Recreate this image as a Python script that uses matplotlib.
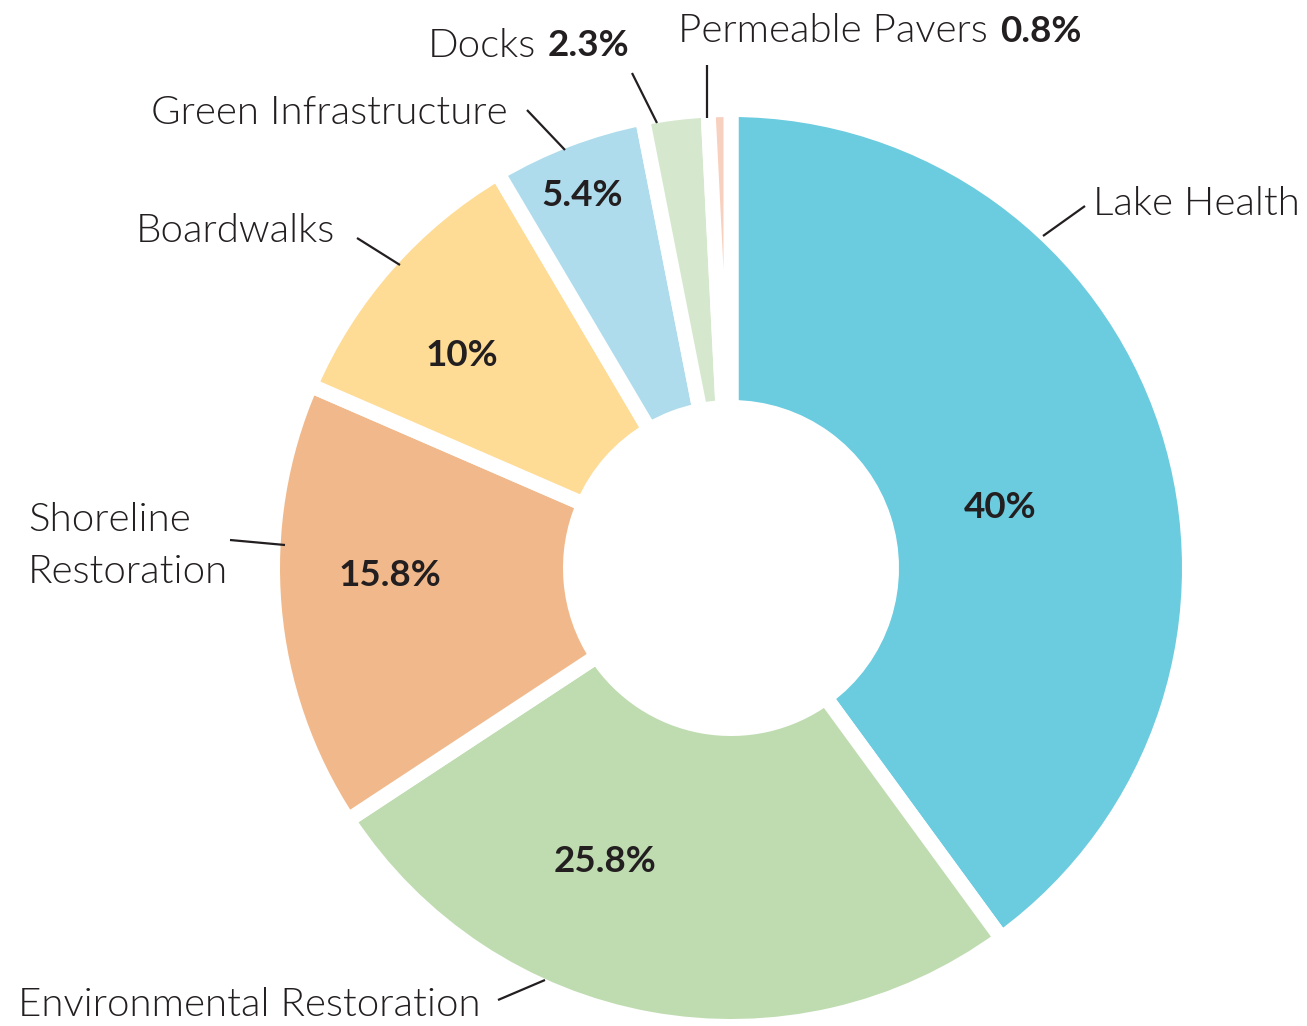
import numpy as np
import matplotlib.pyplot as plt

# Share of funding by project category
categories = ["Lake Health", "Environmental Restoration", "Shoreline Restoration",
              "Boardwalks", "Green Infrastructure", "Docks", "Permeable Pavers"]
shares = [40, 25.8, 15.8, 10, 5.4, 2.3, 0.8]
colors = ["#6bcbdf", "#bfdcb1", "#f1b98b", "#fedc96", "#aedcec", "#d5e8cd", "#f8d0bf"]

W, H = 1307, 1026
cx, cy = 731, 568          # donut centre (pixels, y down)
r_out, r_in = 451, 168     # visible radii
gap = 15                   # white gap between wedges, pixels
dpi = 100

plt.rcParams['font.family'] = ['Lato', 'DejaVu Sans']
ink = "#231f20"

fig = plt.figure(figsize=(W / dpi, H / dpi), dpi=dpi)
ax = fig.add_axes([0, 0, 1, 1])

# stroke eats half the gap on every side, so grow the wedge to compensate
R = r_out + gap / 2
ax.pie(shares, colors=colors, center=(cx, cy), radius=R,
       startangle=-90, counterclock=True, normalize=True,
       wedgeprops=dict(width=R - (r_in - gap / 2), edgecolor="white",
                       linewidth=gap * 72 / dpi))

ax.set_xlim(0, W)
ax.set_ylim(H, 0)
ax.set_aspect("equal")
ax.axis("off")

fs_lab = 29
fs_pct = 26.5
lab = dict(fontsize=fs_lab, color=ink, fontweight=300)
pct = dict(fontsize=fs_pct, color=ink, fontweight="bold")

# percentages inside the wedges
inner = {"Lake Health": (1000, 508), "Environmental Restoration": (605, 862),
         "Shoreline Restoration": (390, 575), "Boardwalks": (462, 355),
         "Green Infrastructure": (582, 195)}
for name, (x, y) in inner.items():
    v = shares[categories.index(name)]
    ax.text(x, y, f"{v:g}%", ha="center", va="center", **pct)

# leader lines
leaders = [((1043, 236), (1085, 206)),
           ((545, 980), (498, 1000)),
           ((285, 545), (230, 540)),
           ((400, 265), (357, 238)),
           ((565, 150), (527, 110)),
           ((657, 123), (632, 73)),
           ((707, 118), (707, 65))]
for (x0, y0), (x1, y1) in leaders:
    ax.plot([x0, x1], [y0, y1], color=ink, lw=1.6, solid_capstyle="butt")

# outer labels
ax.text(1093, 204, "Lake Health", ha="left", va="center", **lab)
ax.text(18, 1005, "Environmental Restoration", ha="left", va="center", **lab)
ax.text(28, 546, "Shoreline\nRestoration", ha="left", va="center",
        linespacing=1.55, **lab)
ax.text(335, 231, "Boardwalks", ha="right", va="center", **lab)
ax.text(508, 113, "Green Infrastructure", ha="right", va="center", **lab)
ax.text(536, 46, "Docks", ha="right", va="center", **lab)
ax.text(548, 46, f"{shares[5]:g}%", ha="left", va="center", **pct)
ax.text(988, 31, "Permeable Pavers", ha="right", va="center", **lab)
ax.text(1000, 31, f"{shares[6]:g}%", ha="left", va="center", **pct)

fig.savefig("out.png", dpi=dpi, facecolor="white")
